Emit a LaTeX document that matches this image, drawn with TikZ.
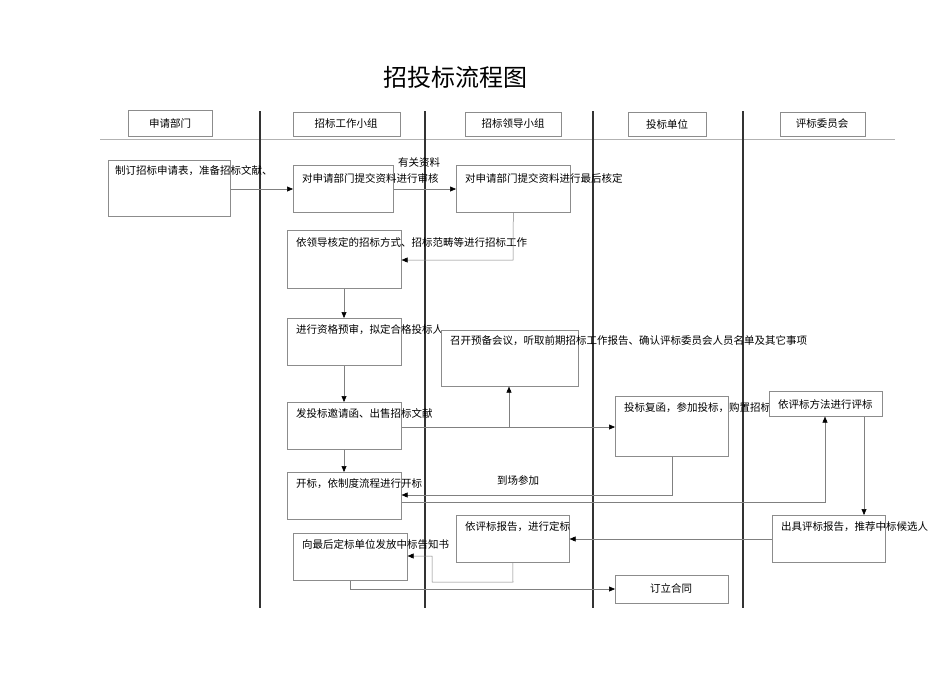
\documentclass[tikz,border=0pt]{standalone}
\usepackage{fontspec}
\setmainfont{Noto Sans CJK SC}
\usetikzlibrary{arrows.meta}
\begin{document}
\begin{tikzpicture}[x=1pt,y=-1pt,
  every node/.style={font=\fontsize{10.5}{12}\selectfont, inner sep=0pt},
  bx/.style={draw=black!45, fill=white, line width=0.6pt},
  hd/.style={draw=black!45, fill=white, line width=0.6pt},
  lane/.style={line width=1.3pt, black!80},
  con/.style={draw=black!50, line width=0.5pt, -{Triangle[length=6pt,width=5pt,black]}},
  tx/.style={anchor=west}]
\useasboundingbox (0,0) rectangle (950,672);
\node (title) at (455,77) {\fontsize{24}{28}\selectfont 招投标流程图};
% headers
\draw[hd] (128,110) rectangle (212,136); \node (h1) at (170,123) {申请部门};
\draw[hd] (293,112) rectangle (400,136); \node (h2) at (346,124) {招标工作小组};
\draw[hd] (465,112) rectangle (561,136); \node (h3) at (513,124) {招标领导小组};
\draw[hd] (628,112) rectangle (706,136); \node (h4) at (667,124) {投标单位};
\draw[hd] (780,112) rectangle (865,136); \node (h5) at (822,124) {评标委员会};
\draw[black!30, line width=0.5pt] (100,139) -- (895,139);
\foreach \x in {260,425,593,743} \draw[lane] (\x,111) -- (\x,608);
% boxes
\node[bx, anchor=north west, minimum width=122, minimum height=56] (A) at (108,160) {};
\node[tx] (At) at (115,171) {制订招标申请表，准备招标文献、};
\node[tx] (At2) at (398,163) {有关资料};
\node[bx, anchor=north west, minimum width=100, minimum height=47] (B) at (293,165) {};
\node[tx] (Bt) at (302,178) {对申请部门提交资料进行审核};
\node[bx, anchor=north west, minimum width=114, minimum height=47] (C) at (456,165) {};
\node[tx] (Ct) at (465,178) {对申请部门提交资料进行最后核定};
\node[bx, anchor=north west, minimum width=114, minimum height=58] (D) at (287,230) {};
\node[tx] (Dt) at (296,242) {依领导核定的招标方式、招标范畴等进行招标工作};
\node[bx, anchor=north west, minimum width=114, minimum height=47] (E) at (287,318) {};
\node[tx] (Et) at (296,330) {进行资格预审，拟定合格投标人};
\node[bx, anchor=north west, minimum width=137, minimum height=56] (F) at (441,330) {};
\node[tx] (Ft) at (450,341) {召开预备会议，听取前期招标工作报告、确认评标委员会人员名单及其它事项};
\node[bx, anchor=north west, minimum width=114, minimum height=47] (G) at (287,402) {};
\node[tx] (Gt) at (296,413) {发投标邀请函、出售招标文献};
\node[bx, anchor=north west, minimum width=113, minimum height=60] (H) at (615,396) {};
\node[tx] (Ht) at (624,408) {投标复函，参加投标，购置招标文献};
\node[bx, anchor=north west, minimum width=113, minimum height=25] (I) at (769,391) {};
\node[tx] (It) at (778,404) {依评标方法进行评标};
\node[bx, anchor=north west, minimum width=114, minimum height=47] (J) at (287,472) {};
\node[tx] (Jt) at (296,484) {开标，依制度流程进行开标};
\node (lab) at (518,480) {到场参加};
\node[bx, anchor=north west, minimum width=113, minimum height=47] (K) at (456,515) {};
\node[tx] (Kt) at (465,527) {依评标报告，进行定标};
\node[bx, anchor=north west, minimum width=113, minimum height=47] (L) at (772,515) {};
\node[tx] (Lt) at (781,527) {出具评标报告，推荐中标候选人};
\node[bx, anchor=north west, minimum width=114, minimum height=47] (M) at (293,533) {};
\node[tx] (Mt) at (302,545) {向最后定标单位发放中标告知书};
\node[bx, anchor=north west, minimum width=113, minimum height=28] (N) at (615,575) {};
\node (Nt) at (671,588) {订立合同};
% connectors
\draw[con] (A.east |- 0,189) -- (B.west |- 0,189);
\draw[con] (B.east |- 0,189) -- (C.west |- 0,189);
\draw[con] (C.south) -- (513,260) -- (D.east |- 0,260);
\draw[con] (D.south -| 344,0) -- (E.north -| 344,0);
\draw[con] (E.south -| 344,0) -- (G.north -| 344,0);
\draw[con] (G.east |- 0,427) -- (H.west |- 0,427);
\coordinate (g1) at (509,427);
\draw[con] (g1) -- (F.south -| g1);
\draw[con] (G.south -| 344,0) -- (J.north -| 344,0);
\draw[con] (H.south -| 672,0) -- (672,495) -- (J.east |- 0,495);
\draw[con] (J.east |- 0,502) -- (825,502) -- (I.south -| 825,0);
\draw[con] (I.south -| 864,0) -- (L.north -| 864,0);
\draw[con] (L.west |- 0,539) -- (K.east |- 0,539);
\draw[con] (K.south) -- (513,582) -- (432,582) -- (432,556) -- (M.east |- 0,556);
\draw[con] (M.south -| 350,0) -- (350,589) -- (N.west |- 0,589);
\end{tikzpicture}
\end{document}
